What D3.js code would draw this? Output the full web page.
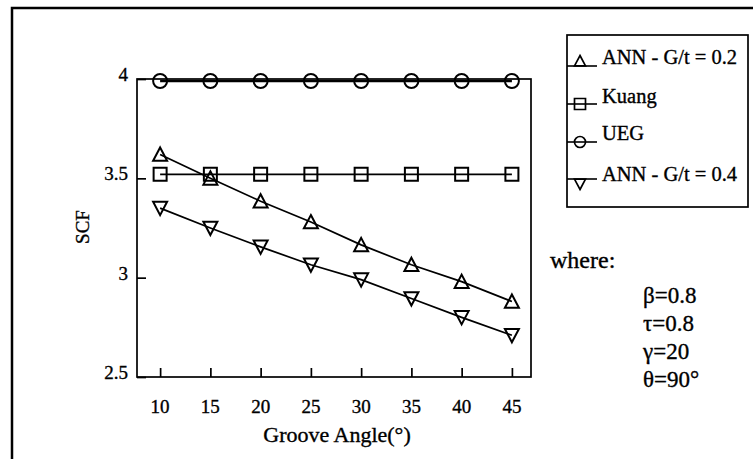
<html>
<head>
<script src="https://d3js.org/d3.v7.min.js"></script>
<style>
  body { margin: 0; background: #fff; }
  svg text { font-family: "Liberation Serif", "Times New Roman", serif; fill: #000; stroke: #000; stroke-width: 0.35px; }
</style>
</head>
<body>
<script>
// data
var angles = [10, 15, 20, 25, 30, 35, 40, 45];
var ann02 = [3.62, 3.50, 3.385, 3.28, 3.165, 3.065, 2.98, 2.88];
var kuang = [3.52, 3.52, 3.52, 3.52, 3.52, 3.52, 3.52, 3.52];
var ueg = [3.99, 3.99, 3.99, 3.99, 3.99, 3.99, 3.99, 3.99];
var ann04 = [3.35, 3.25, 3.155, 3.065, 2.99, 2.895, 2.80, 2.71];
var xTicks = [10, 15, 20, 25, 30, 35, 40, 45];
var yTicks = [2.5, 3, 3.5, 4];
var yTickLabels = ["2.5", "3", "3.5", "4"];
var legendNames = ["ANN - G/t = 0.2", "Kuang", "UEG", "ANN - G/t = 0.4"];
var legendShapes = ["up", "square", "circle", "down"];
var params = ["\u03B2=0.8", "\u03C4=0.8", "\u03B3=20", "\u03B8=90\u00B0"];

var W = 753, H = 459;
var pLeft = 137, pRight = 531, pTop = 79, pBottom = 377;

var svg = d3.select("body").append("svg")
  .attr("width", W).attr("height", H);

// outer frame (runs off right and bottom)
svg.append("rect")
  .attr("x", 12).attr("y", 8)
  .attr("width", 800).attr("height", 500)
  .attr("fill", "none").attr("stroke", "#000").attr("stroke-width", 2.5);

var x = d3.scaleLinear().domain([7.7, 46.9]).range([pLeft, pRight]);
var y = d3.scaleLinear().domain([2.5, 4]).range([pBottom, pTop]);

// plot box
svg.append("rect")
  .attr("x", pLeft).attr("y", pTop)
  .attr("width", pRight - pLeft).attr("height", pBottom - pTop)
  .attr("fill", "none").attr("stroke", "#000").attr("stroke-width", 1.7);

// ticks point inward
svg.append("g")
  .attr("transform", "translate(0," + pBottom + ")")
  .call(d3.axisTop(x).tickValues(xTicks).tickSize(9).tickFormat(""))
  .call(function(g) { g.select(".domain").remove(); })
  .selectAll("line").attr("stroke-width", 1.7);

svg.append("g")
  .attr("transform", "translate(" + pLeft + ",0)")
  .call(d3.axisRight(y).tickValues(yTicks).tickSize(9).tickFormat(""))
  .call(function(g) { g.select(".domain").remove(); })
  .selectAll("line").attr("stroke-width", 1.7);

// tick labels
svg.append("g").selectAll("text")
  .data(xTicks).enter().append("text")
  .attr("x", function(d) { return x(d); })
  .attr("y", 413)
  .attr("text-anchor", "middle")
  .style("font-size", "19px")
  .text(function(d) { return d; });

svg.append("g").selectAll("text")
  .data(yTicks).enter().append("text")
  .attr("x", 128)
  .attr("y", function(d) { return y(d) + 2; })
  .attr("text-anchor", "end")
  .style("font-size", "19px")
  .text(function(d, i) { return yTickLabels[i]; });

// axis titles
svg.append("text")
  .attr("x", 337).attr("y", 442)
  .attr("text-anchor", "middle")
  .style("font-size", "22px")
  .text("Groove Angle(\u00B0)");

svg.append("text")
  .attr("transform", "translate(89,227) rotate(-90)")
  .attr("text-anchor", "middle")
  .style("font-size", "19px")
  .text("SCF");

// marker shapes
function shape(kind, cx, cy, s) {
  var h = s / 2;
  if (kind === "up") return "M" + cx + "," + (cy - h) + "L" + (cx + h) + "," + (cy + h * 0.9) + "L" + (cx - h) + "," + (cy + h * 0.9) + "Z";
  if (kind === "down") return "M" + cx + "," + (cy + h) + "L" + (cx + h) + "," + (cy - h * 0.9) + "L" + (cx - h) + "," + (cy - h * 0.9) + "Z";
  if (kind === "square") return "M" + (cx - h) + "," + (cy - h) + "h" + s + "v" + s + "h" + (-s) + "Z";
  return "M" + (cx - h) + "," + cy + "a" + h + "," + h + " 0 1,0 " + s + ",0a" + h + "," + h + " 0 1,0 " + (-s) + ",0Z";
}

var series = [
  { vals: ann02, kind: "up", sw: 1.7 },
  { vals: kuang, kind: "square", sw: 1.7 },
  { vals: ueg, kind: "circle", sw: 2.5 },
  { vals: ann04, kind: "down", sw: 1.7 }
];

var line = d3.line()
  .x(function(d, i) { return x(angles[i]); })
  .y(function(d) { return y(d); });

series.forEach(function(s) {
  svg.append("path")
    .attr("d", line(s.vals))
    .attr("fill", "none").attr("stroke", "#000").attr("stroke-width", s.sw);
  svg.append("g").selectAll("path")
    .data(s.vals).enter().append("path")
    .attr("d", function(d, i) { return shape(s.kind, x(angles[i]), y(d), s.kind === "square" ? 13 : 14); })
    .attr("fill", "none").attr("stroke", "#000").attr("stroke-width", 2);
});

// legend
var lg = svg.append("g");
lg.append("rect")
  .attr("x", 567).attr("y", 35)
  .attr("width", 181).attr("height", 172)
  .attr("fill", "#fff").attr("stroke", "#000").attr("stroke-width", 1.7);

var rowY = [66, 104, 142, 179];
legendNames.forEach(function(name, i) {
  var yy = rowY[i];
  lg.append("line")
    .attr("x1", 567).attr("x2", 597).attr("y1", yy).attr("y2", yy)
    .attr("stroke", "#000").attr("stroke-width", 1.6);
  var k = legendShapes[i];
  var cy = k === "up" ? yy - 5 : (k === "down" ? yy + 5 : yy);
  lg.append("path")
    .attr("d", shape(k, 580, cy, 11))
    .attr("fill", "none").attr("stroke", "#000").attr("stroke-width", 1.7);
  lg.append("text")
    .attr("x", 602).attr("y", yy - 2 + (i === 3 ? 4 : 0) + (i === 1 ? 1 : 0))
    .style("font-size", "20.5px")
    .text(name);
});

// notes
svg.append("text")
  .attr("x", 550).attr("y", 268)
  .style("font-size", "24px")
  .text("where:");

svg.append("g").selectAll("text")
  .data(params).enter().append("text")
  .attr("x", 643)
  .attr("y", function(d, i) { return 303 + i * 28; })
  .style("font-size", "23px")
  .text(function(d) { return d; });
</script>
</body>
</html>
